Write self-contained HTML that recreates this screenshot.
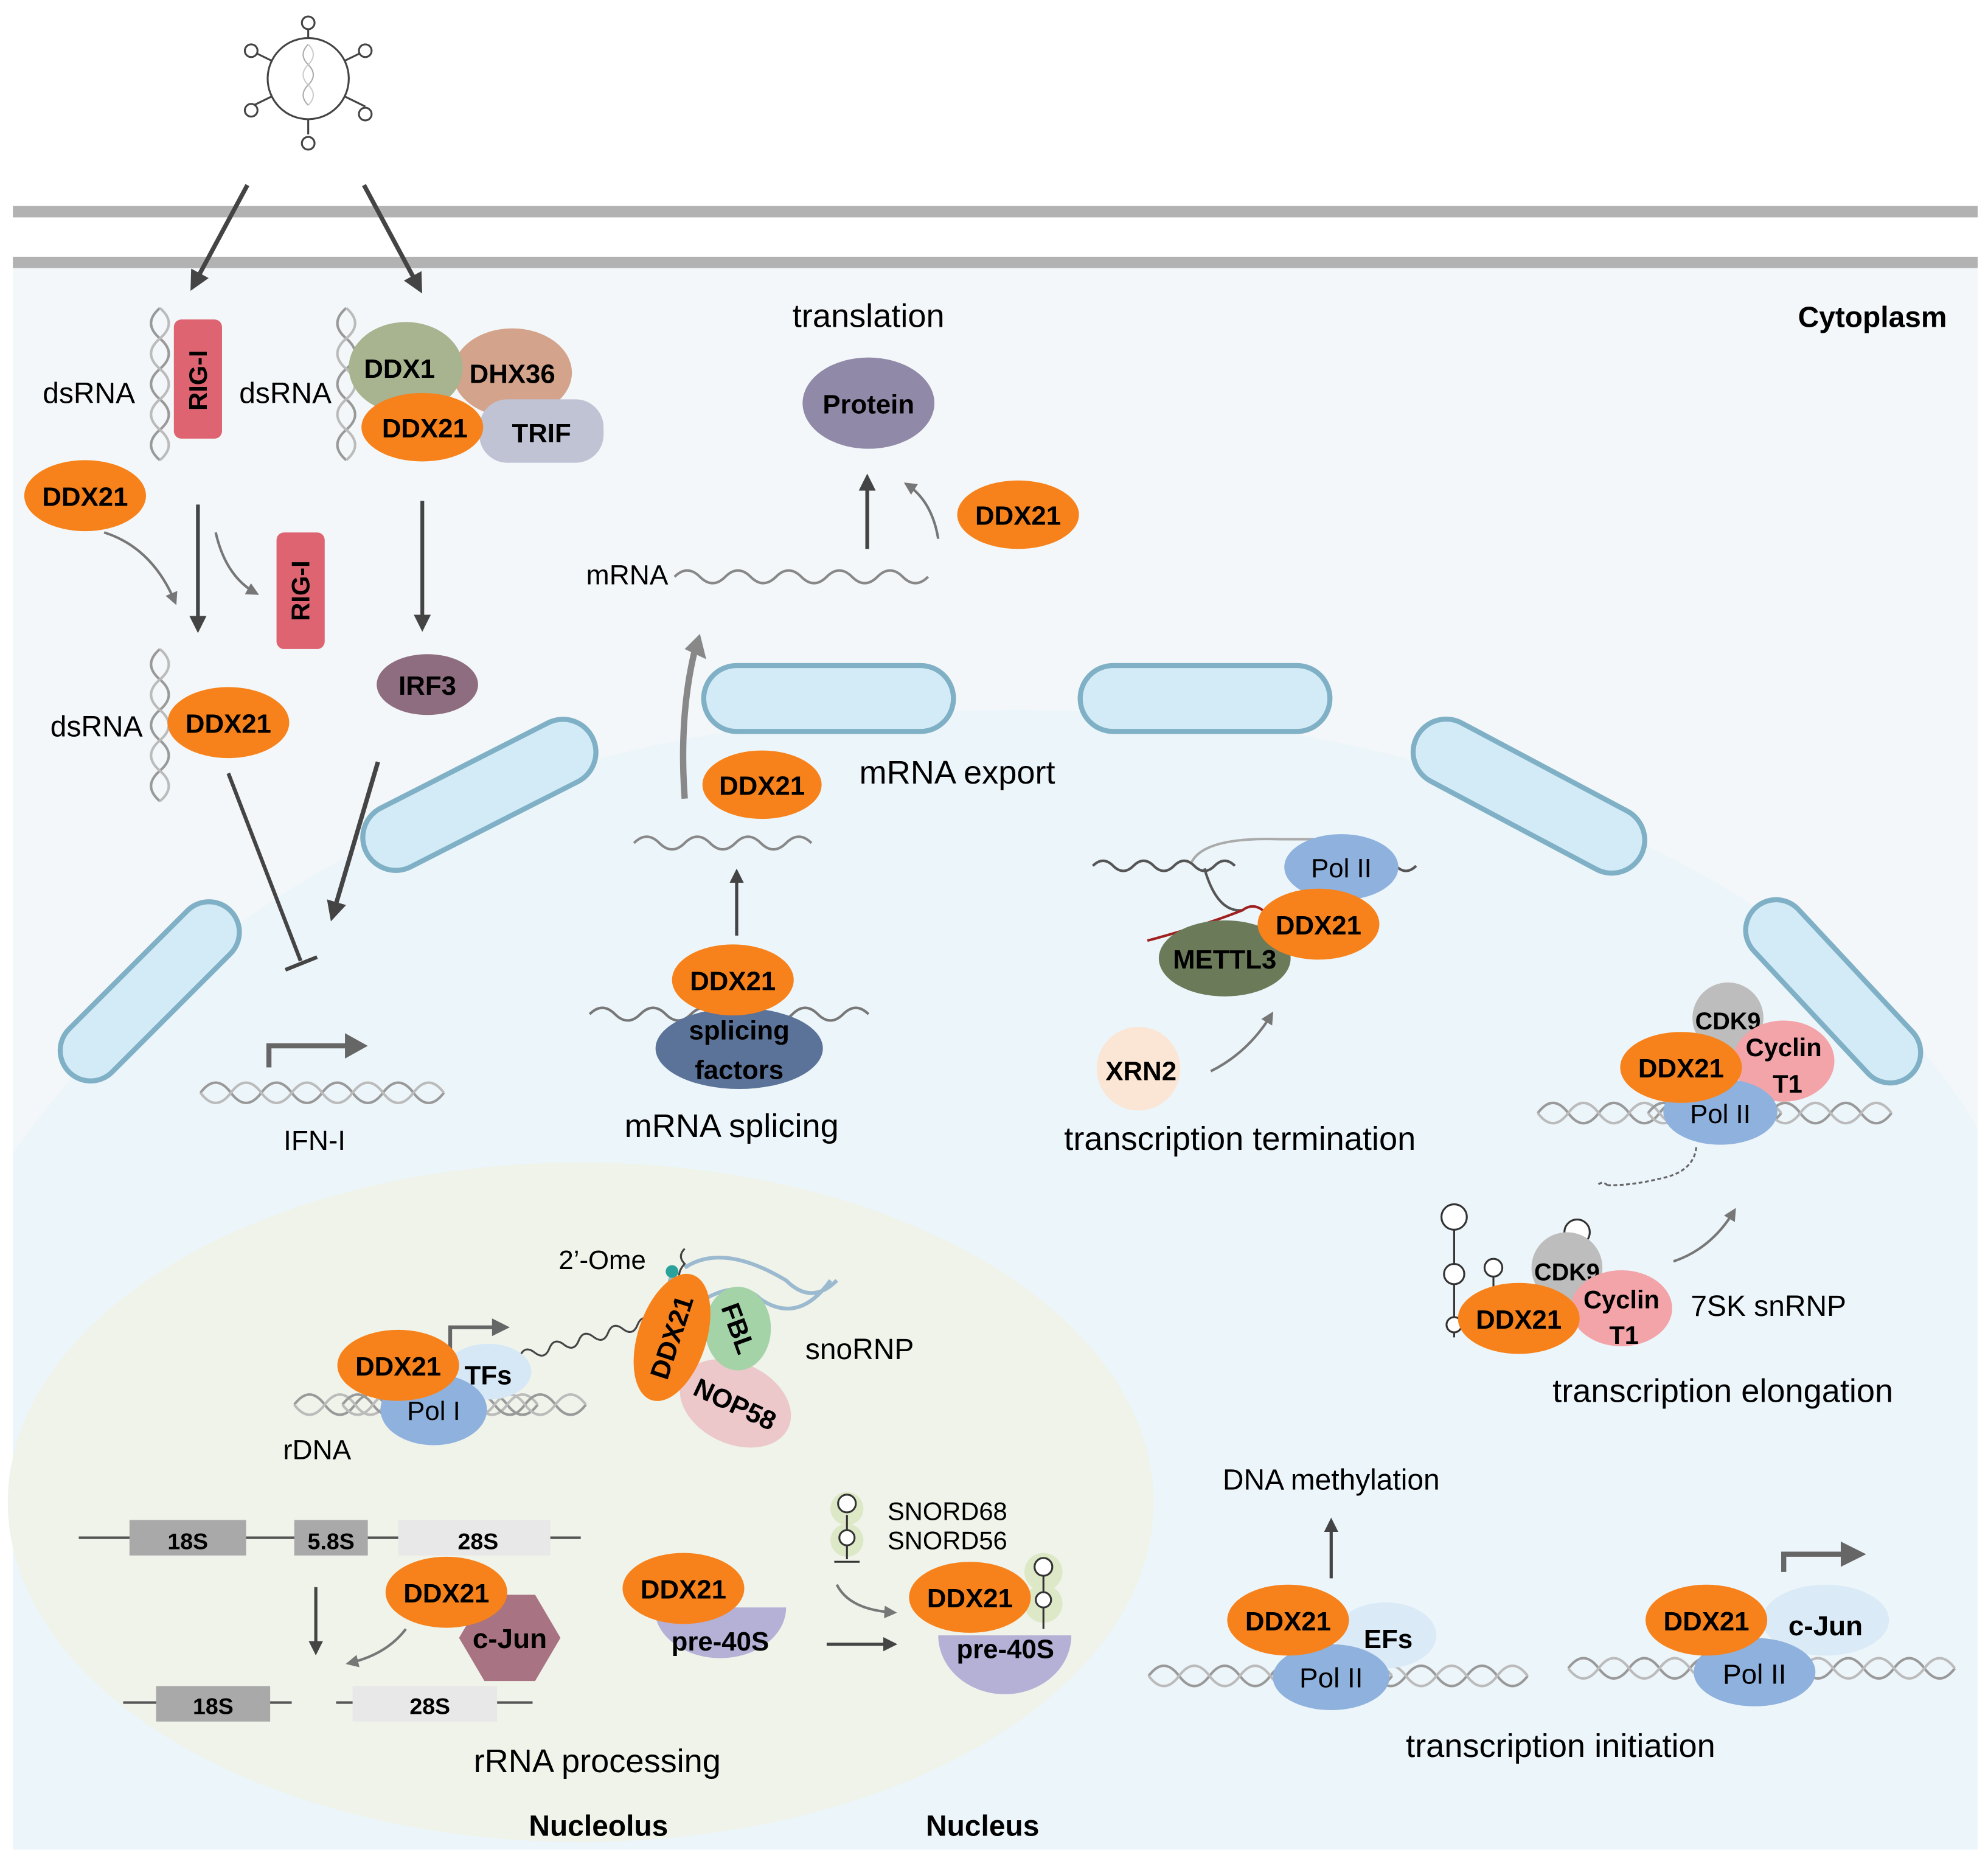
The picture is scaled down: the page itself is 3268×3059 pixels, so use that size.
<!DOCTYPE html>
<html><head><meta charset="utf-8"><style>
html,body{margin:0;padding:0;background:#fff}
svg{display:block}
text{font-family:"Liberation Sans",sans-serif}
.b{font-weight:bold}
</style></head><body>
<svg width="3268" height="3059" viewBox="0 0 1568 1468" xmlns="http://www.w3.org/2000/svg">
<defs>
<marker id="ah" viewBox="0 0 8 8" markerWidth="4.5" markerHeight="4.5" refX="6" refY="4" orient="auto" markerUnits="strokeWidth"><path d="M0,0 L8,4 L0,8 Z" fill="#444"/></marker>
<marker id="ahg" viewBox="0 0 8 8" markerWidth="5" markerHeight="5" refX="6" refY="4" orient="auto" markerUnits="strokeWidth"><path d="M0,0 L8,4 L0,8 Z" fill="#777"/></marker>
<g id="dna"><path d="M0,0 q12,-16 24,0 t24,0 t24,0 t24,0 t24,0 t24,0 t24,0 t24,0" fill="none" stroke="#999" stroke-width="2"/><path d="M0,0 q12,16 24,0 t24,0 t24,0 t24,0 t24,0 t24,0 t24,0 t24,0" fill="none" stroke="#bbb" stroke-width="2"/></g>
<g id="vdna"><path d="M0,0 q-14,12 0,24 t0,24 t0,24 t0,24 t0,24" fill="none" stroke="#999" stroke-width="2"/><path d="M0,0 q14,12 0,24 t0,24 t0,24 t0,24 t0,24" fill="none" stroke="#bbb" stroke-width="2"/></g>
</defs>
<rect width="1568" height="1468" fill="#fff"/>
<rect x="10" y="207" width="1550" height="1252" fill="#f3f7f9"/>
<path d="M10,910 C200,640 500,560 800,560 C1150,560 1450,700 1560,890 L1560,1459 L10,1459 Z" fill="#ecf5fa"/>
<ellipse cx="458" cy="1185" rx="452" ry="268" fill="#eff3ea"/>
<line x1="10" y1="167" x2="1560" y2="167" stroke="#b2b2b2" stroke-width="9"/>
<line x1="10" y1="207" x2="1560" y2="207" stroke="#b2b2b2" stroke-width="9"/>
<g fill="#d3ebf7" stroke="#7fb0c5" stroke-width="4">
<rect x="555" y="525" width="197" height="52" rx="26"/>
<rect x="852" y="525" width="197" height="52" rx="26"/>
<rect x="-100" y="-26" width="200" height="52" rx="26" transform="translate(378,627) rotate(-27)"/>
<rect x="-100" y="-26" width="200" height="52" rx="26" transform="translate(1206,628) rotate(28)"/>
<rect x="-90" y="-24" width="180" height="48" rx="24" transform="translate(118,782) rotate(-45)"/>
<rect x="-90" y="-24" width="180" height="48" rx="24" transform="translate(1446,782) rotate(47)"/>
</g>
<g stroke="#444" stroke-width="1.5" fill="#fff">
<line x1="243" y1="18" x2="243" y2="106"/><line x1="198" y1="40" x2="288" y2="84"/><line x1="198" y1="84" x2="288" y2="40"/>
<circle cx="243" cy="62" r="32"/>
<circle cx="243" cy="18" r="5"/><circle cx="243" cy="113" r="5"/><circle cx="198" cy="40" r="5"/><circle cx="288" cy="40" r="5"/><circle cx="198" cy="87" r="5"/><circle cx="288" cy="90" r="5"/>
</g>
<path d="M243,35 q-8,8 0,16 t0,16 t0,16" stroke="#aaa" fill="none"/><path d="M243,35 q8,8 0,16 t0,16 t0,16" stroke="#ccc" fill="none"/>
<line x1="195" y1="146" x2="152" y2="226" stroke="#444" stroke-width="3.5" marker-end="url(#ah)"/>
<line x1="287" y1="146" x2="331" y2="228" stroke="#444" stroke-width="3.5" marker-end="url(#ah)"/>
<use href="#vdna" x="126" y="243"/>
<rect x="137" y="252" width="38" height="94" rx="6" fill="#de6471"/>
<text x="156" y="300" class="b" font-size="20" text-anchor="middle" transform="rotate(-90 156 300)" dy="7">RIG-I</text>
<text x="70" y="318" font-size="23" text-anchor="middle">dsRNA</text>
<ellipse cx="67" cy="391" rx="48" ry="28" fill="#f7821b"/><text x="67" y="399" class="b" font-size="21" text-anchor="middle">DDX21</text>
<line x1="156" y1="398" x2="156" y2="496" stroke="#444" stroke-width="3" marker-end="url(#ah)"/>
<path d="M82,420 Q120,432 138,475" stroke="#777" stroke-width="2" fill="none" marker-end="url(#ahg)"/>
<path d="M170,420 Q178,455 202,468" stroke="#777" stroke-width="2" fill="none" marker-end="url(#ahg)"/>
<rect x="218" y="420" width="38" height="92" rx="6" fill="#de6471"/>
<text x="237" y="466" class="b" font-size="20" text-anchor="middle" transform="rotate(-90 237 466)" dy="7">RIG-I</text>
<use href="#vdna" x="126" y="512"/>
<text x="76" y="581" font-size="23" text-anchor="middle">dsRNA</text>
<ellipse cx="180" cy="570" rx="48" ry="28" fill="#f7821b"/><text x="180" y="578" class="b" font-size="21" text-anchor="middle">DDX21</text>
<line x1="180" y1="610" x2="237" y2="758" stroke="#444" stroke-width="3"/>
<line x1="225" y1="765" x2="250" y2="755" stroke="#444" stroke-width="3"/>
<use href="#vdna" x="273" y="243"/>
<text x="225" y="318" font-size="23" text-anchor="middle">dsRNA</text>
<ellipse cx="404" cy="294" rx="47" ry="35" fill="#d4a38c"/><text x="404" y="302" class="b" font-size="21" text-anchor="middle">DHX36</text>
<rect x="378" y="315" width="98" height="50" rx="22" fill="#bfc3d3"/><text x="427" y="349" class="b" font-size="21" text-anchor="middle">TRIF</text>
<ellipse cx="320" cy="290" rx="45" ry="36" fill="#a8b38f"/><text x="315" y="298" class="b" font-size="21" text-anchor="middle">DDX1</text>
<ellipse cx="333" cy="337" rx="48" ry="27" fill="#f7821b"/><text x="335" y="345" class="b" font-size="21" text-anchor="middle">DDX21</text>
<line x1="333" y1="395" x2="333" y2="495" stroke="#444" stroke-width="3" marker-end="url(#ah)"/>
<ellipse cx="337" cy="540" rx="40" ry="24" fill="#8e6d80"/><text x="337" y="548" class="b" font-size="21" text-anchor="middle">IRF3</text>
<line x1="298" y1="601" x2="262" y2="723" stroke="#444" stroke-width="3.5" marker-end="url(#ah)"/>
<path d="M212,842 V825 H275" stroke="#666" stroke-width="4" fill="none"/><path d="M272,815 L290,825 L272,835 Z" fill="#666"/>
<use href="#dna" x="158" y="862"/>
<text x="248" y="907" font-size="22" text-anchor="middle">IFN-I</text>
<text x="685" y="258" font-size="26" text-anchor="middle">translation</text>
<ellipse cx="685" cy="318" rx="52" ry="36" fill="#9089a8"/><text x="685" y="326" class="b" font-size="21" text-anchor="middle">Protein</text>
<line x1="684" y1="433" x2="684" y2="377" stroke="#444" stroke-width="3" marker-end="url(#ah)"/>
<path d="M740,425 Q735,395 715,382" stroke="#777" stroke-width="2" fill="none" marker-end="url(#ahg)"/>
<ellipse cx="803" cy="406" rx="48" ry="27" fill="#f7821b"/><text x="803" y="414" class="b" font-size="21" text-anchor="middle">DDX21</text>
<text x="527" y="461" font-size="22" text-anchor="end">mRNA</text>
<path d="M532,455 q10,-10 20,0 t20,0 t20,0 t20,0 t20,0 t20,0 t20,0 t20,0 t20,0 t20,0" stroke="#888" stroke-width="2" fill="none"/>
<path d="M540,630 Q535,560 550,505" stroke="#888" stroke-width="5" fill="none"/><path d="M540,512 L552,500 L557,520 Z" fill="#888"/>
<ellipse cx="601" cy="619" rx="47" ry="27" fill="#f7821b"/><text x="601" y="627" class="b" font-size="21" text-anchor="middle">DDX21</text>
<text x="755" y="618" font-size="26" text-anchor="middle">mRNA export</text>
<path d="M500,665 q10,-10 20,0 t20,0 t20,0 t20,0 t20,0 t20,0 t20,0" stroke="#888" stroke-width="2" fill="none"/>
<line x1="581" y1="738" x2="581" y2="688" stroke="#444" stroke-width="2.5" marker-end="url(#ah)"/>
<path d="M465,800 q10,-10 20,0 t20,0 t20,0 t20,0 t20,0 t20,0 t20,0 t20,0 t20,0 t20,0 t20,0" stroke="#777" stroke-width="2" fill="none"/>
<ellipse cx="583" cy="827" rx="66" ry="32" fill="#5c7399"/>
<text x="583" y="820" class="b" font-size="21" text-anchor="middle">splicing</text><text x="583" y="851" class="b" font-size="21" text-anchor="middle">factors</text>
<ellipse cx="578" cy="773" rx="48" ry="28" fill="#f7821b"/><text x="578" y="781" class="b" font-size="21" text-anchor="middle">DDX21</text>
<text x="577" y="897" font-size="26" text-anchor="middle">mRNA splicing</text>
<path d="M862,683 q8,-8 16,0 t16,0 t16,0 t16,0 t16,0 t16,0 t16,0 M1085,683 q8,-8 16,0 t16,0" stroke="#555" stroke-width="2" fill="none"/>
<path d="M940,680 Q950,660 1010,662 H1060" stroke="#aaa" stroke-width="2" fill="none"/>
<path d="M950,685 Q960,720 980,718" stroke="#555" stroke-width="2" fill="none"/>
<path d="M905,742 Q950,730 980,718 q8,-6 16,0 t16,0" stroke="#a02020" stroke-width="2" fill="none"/>
<ellipse cx="1058" cy="684" rx="45" ry="26" fill="#8fb1de"/><text x="1058" y="692" font-size="21" text-anchor="middle">Pol II</text>
<ellipse cx="966" cy="756" rx="52" ry="30" fill="#6b7b5a"/><text x="966" y="764" class="b" font-size="21" text-anchor="middle">METTL3</text>
<ellipse cx="1040" cy="729" rx="48" ry="28" fill="#f7821b"/><text x="1040" y="737" class="b" font-size="21" text-anchor="middle">DDX21</text>
<circle cx="898" cy="843" r="33" fill="#fbe5d4"/><text x="900" y="852" class="b" font-size="21" text-anchor="middle">XRN2</text>
<path d="M955,845 Q985,830 1003,800" stroke="#777" stroke-width="2" fill="none" marker-end="url(#ahg)"/>
<text x="978" y="907" font-size="26" text-anchor="middle">transcription termination</text>
<use href="#dna" x="1213" y="878"/><use href="#dna" x="1300" y="878"/>
<circle cx="1363" cy="803" r="28" fill="#bdbdbd"/><text x="1363" y="812" class="b" font-size="19" text-anchor="middle">CDK9</text>
<ellipse cx="1407" cy="837" rx="40" ry="32" fill="#f2a4a8"/>
<text x="1407" y="833" class="b" font-size="20" text-anchor="middle">Cyclin</text><text x="1410" y="862" class="b" font-size="20" text-anchor="middle">T1</text>
<ellipse cx="1357" cy="877" rx="45" ry="26" fill="#8fb1de"/><text x="1357" y="886" font-size="21" text-anchor="middle">Pol II</text>
<ellipse cx="1326" cy="842" rx="48" ry="28" fill="#f7821b"/><text x="1326" y="850" class="b" font-size="21" text-anchor="middle">DDX21</text>
<path d="M1338,905 q-2,20 -30,25 q-20,5 -40,5 M1268,935 q-4,-4 -8,0" stroke="#666" stroke-width="1.5" stroke-dasharray="3 2" fill="none"/>
<path d="M1320,995 Q1350,985 1368,955" stroke="#777" stroke-width="2" fill="none" marker-end="url(#ahg)"/>
<g stroke="#333" stroke-width="1.5" fill="#fff">
<line x1="1147" y1="965" x2="1147" y2="1055"/>
<circle cx="1147" cy="960" r="10"/><circle cx="1147" cy="1005" r="8"/><circle cx="1147" cy="1045" r="6"/>
<line x1="1178" y1="1005" x2="1178" y2="1040"/><circle cx="1178" cy="1000" r="7"/>
<circle cx="1244" cy="972" r="10"/>
</g>
<circle cx="1236" cy="1000" r="28" fill="#bdbdbd"/><text x="1236" y="1010" class="b" font-size="19" text-anchor="middle">CDK9</text>
<ellipse cx="1279" cy="1032" rx="40" ry="30" fill="#f2a4a8"/>
<text x="1279" y="1032" class="b" font-size="20" text-anchor="middle">Cyclin</text><text x="1281" y="1060" class="b" font-size="20" text-anchor="middle">T1</text>
<ellipse cx="1198" cy="1040" rx="48" ry="28" fill="#f7821b"/><text x="1198" y="1048" class="b" font-size="21" text-anchor="middle">DDX21</text>
<text x="1395" y="1038" font-size="23" text-anchor="middle">7SK snRNP</text>
<text x="1359" y="1106" font-size="26" text-anchor="middle">transcription elongation</text>
<text x="1050" y="1175" font-size="23" text-anchor="middle">DNA methylation</text>
<line x1="1050" y1="1245" x2="1050" y2="1200" stroke="#444" stroke-width="2.5" marker-end="url(#ah)"/>
<use href="#dna" x="906" y="1322"/><use href="#dna" x="1013" y="1322"/>
<ellipse cx="1093" cy="1290" rx="40" ry="26" fill="#dbeaf7"/><text x="1095" y="1300" class="b" font-size="21" text-anchor="middle">EFs</text>
<ellipse cx="1050" cy="1323" rx="46" ry="26" fill="#8fb1de"/><text x="1050" y="1331" font-size="22" text-anchor="middle">Pol II</text>
<ellipse cx="1016" cy="1278" rx="48" ry="28" fill="#f7821b"/><text x="1016" y="1286" class="b" font-size="21" text-anchor="middle">DDX21</text>
<use href="#dna" x="1237" y="1316"/><use href="#dna" x="1350" y="1316"/>
<path d="M1407,1240 V1226 H1455" stroke="#666" stroke-width="4" fill="none"/><path d="M1452,1216 L1472,1226 L1452,1236 Z" fill="#666"/>
<ellipse cx="1440" cy="1278" rx="50" ry="28" fill="#dbeaf7"/><text x="1440" y="1290" class="b" font-size="22" text-anchor="middle">c-Jun</text>
<ellipse cx="1384" cy="1319" rx="48" ry="27" fill="#8fb1de"/><text x="1384" y="1328" font-size="22" text-anchor="middle">Pol II</text>
<ellipse cx="1346" cy="1278" rx="48" ry="28" fill="#f7821b"/><text x="1346" y="1286" class="b" font-size="21" text-anchor="middle">DDX21</text>
<text x="1231" y="1386" font-size="26" text-anchor="middle">transcription initiation</text>
<use href="#dna" x="232" y="1108"/><use href="#dna" x="270" y="1108"/>
<path d="M355,1065 V1047 H390" stroke="#666" stroke-width="3" fill="none"/><path d="M388,1040 L402,1047 L388,1054 Z" fill="#666"/>
<path d="M410,1070 q6,-8 12,0 t12,0 t12,0 t12,0 t12,0 t12,0 t12,0 t12,0 t12,0" transform="rotate(-15 410 1070)" stroke="#444" stroke-width="1.5" fill="none"/>
<ellipse cx="385" cy="1082" rx="34" ry="22" fill="#d6e8f6"/><text x="385" y="1092" class="b" font-size="21" text-anchor="middle">TFs</text>
<ellipse cx="342" cy="1112" rx="42" ry="28" fill="#8fb1de"/><text x="342" y="1120" font-size="21" text-anchor="middle">Pol I</text>
<ellipse cx="314" cy="1077" rx="48" ry="28" fill="#f7821b"/><text x="314" y="1085" class="b" font-size="21" text-anchor="middle">DDX21</text>
<text x="250" y="1151" font-size="22" text-anchor="middle">rDNA</text>
<path d="M530,1005 q-8,20 10,30 q40,-30 60,-10 q30,20 55,-15 M540,1000 q30,-20 80,10 q20,20 40,0" stroke="#9bb9cf" stroke-width="3" fill="none"/>
<path d="M540,985 q-6,6 0,12 q-6,6 -4,14" stroke="#444" stroke-width="1.5" fill="none"/>
<circle cx="530" cy="1003" r="5" fill="#2aa19a"/>
<text x="475" y="1001" font-size="21" text-anchor="middle">2’-Ome</text>
<ellipse cx="580" cy="1107" rx="46" ry="32" fill="#ecc8cb" transform="rotate(25 580 1107)"/><text x="580" y="1115" class="b" font-size="21" text-anchor="middle" transform="rotate(25 580 1107)">NOP58</text>
<ellipse cx="582" cy="1048" rx="26" ry="33" fill="#a5d3a8"/><text x="582" y="1055" class="b" font-size="21" text-anchor="middle" transform="rotate(70 582 1048)">FBL</text>
<ellipse cx="530" cy="1055" rx="27" ry="52" fill="#f7821b" transform="rotate(18 530 1055)"/><text x="530" y="1062" class="b" font-size="21" text-anchor="middle" transform="rotate(-72 530 1055)">DDX21</text>
<text x="678" y="1072" font-size="23" text-anchor="middle">snoRNP</text>
<line x1="62" y1="1213" x2="458" y2="1213" stroke="#555" stroke-width="2"/>
<rect x="102" y="1199" width="92" height="28" fill="#a9a9a9"/><text x="148" y="1222" class="b" font-size="18" text-anchor="middle">18S</text>
<rect x="232" y="1199" width="58" height="28" fill="#a9a9a9"/><text x="261" y="1222" class="b" font-size="18" text-anchor="middle">5.8S</text>
<rect x="314" y="1199" width="120" height="28" fill="#e8e8e8"/><text x="377" y="1222" class="b" font-size="18" text-anchor="middle">28S</text>
<line x1="249" y1="1252" x2="249" y2="1303" stroke="#444" stroke-width="2.5" marker-end="url(#ah)"/>
<path d="M320,1285 Q305,1305 275,1312" stroke="#777" stroke-width="2" fill="none" marker-end="url(#ahg)"/>
<polygon points="382,1258 422,1258 442,1292 422,1326 382,1326 362,1292" fill="#a87383"/><text x="402" y="1300" class="b" font-size="22" text-anchor="middle">c-Jun</text>
<ellipse cx="352" cy="1256" rx="48" ry="28" fill="#f7821b"/><text x="352" y="1264" class="b" font-size="21" text-anchor="middle">DDX21</text>
<line x1="97" y1="1343" x2="230" y2="1343" stroke="#555" stroke-width="2"/><line x1="265" y1="1343" x2="420" y2="1343" stroke="#555" stroke-width="2"/>
<rect x="123" y="1330" width="90" height="28" fill="#a9a9a9"/><text x="168" y="1352" class="b" font-size="18" text-anchor="middle">18S</text>
<rect x="278" y="1330" width="114" height="28" fill="#e8e8e8"/><text x="339" y="1352" class="b" font-size="18" text-anchor="middle">28S</text>
<text x="471" y="1398" font-size="26" text-anchor="middle">rRNA processing</text>
<text x="472" y="1448" class="b" font-size="23" text-anchor="middle">Nucleolus</text>
<text x="775" y="1448" class="b" font-size="23" text-anchor="middle">Nucleus</text>
<text x="1477" y="258" class="b" font-size="23" text-anchor="middle">Cytoplasm</text>
<path d="M516,1268 A52,40 0 0 0 620,1268 Z" fill="#b4b0d6"/><text x="568" y="1302" class="b" font-size="21" text-anchor="middle">pre-40S</text>
<ellipse cx="539" cy="1253" rx="48" ry="28" fill="#f7821b"/><text x="539" y="1261" class="b" font-size="21" text-anchor="middle">DDX21</text>
<line x1="652" y1="1297" x2="705" y2="1297" stroke="#444" stroke-width="2.5" marker-end="url(#ah)"/>
<g fill="#dde8c7"><circle cx="668" cy="1190" r="13"/><circle cx="668" cy="1215" r="13"/><circle cx="823" cy="1240" r="15"/><circle cx="823" cy="1265" r="15"/></g>
<g stroke="#333" stroke-width="1.5" fill="#fff"><line x1="668" y1="1195" x2="668" y2="1230"/><circle cx="668" cy="1186" r="7"/><circle cx="668" cy="1213" r="6"/><line x1="658" y1="1232" x2="678" y2="1232"/>
<line x1="823" y1="1243" x2="823" y2="1285"/><circle cx="823" cy="1236" r="7"/><circle cx="823" cy="1262" r="6"/></g>
<text x="700" y="1199" font-size="20">SNORD68</text><text x="700" y="1222" font-size="20">SNORD56</text>
<path d="M660,1250 Q670,1270 705,1272" stroke="#777" stroke-width="2" fill="none" marker-end="url(#ahg)"/>
<path d="M740,1290 A52,46 0 0 0 845,1290 Z" fill="#b4b0d6"/><text x="793" y="1308" class="b" font-size="21" text-anchor="middle">pre-40S</text>
<ellipse cx="765" cy="1260" rx="48" ry="28" fill="#f7821b"/><text x="765" y="1268" class="b" font-size="21" text-anchor="middle">DDX21</text>
</svg>
</body></html>
